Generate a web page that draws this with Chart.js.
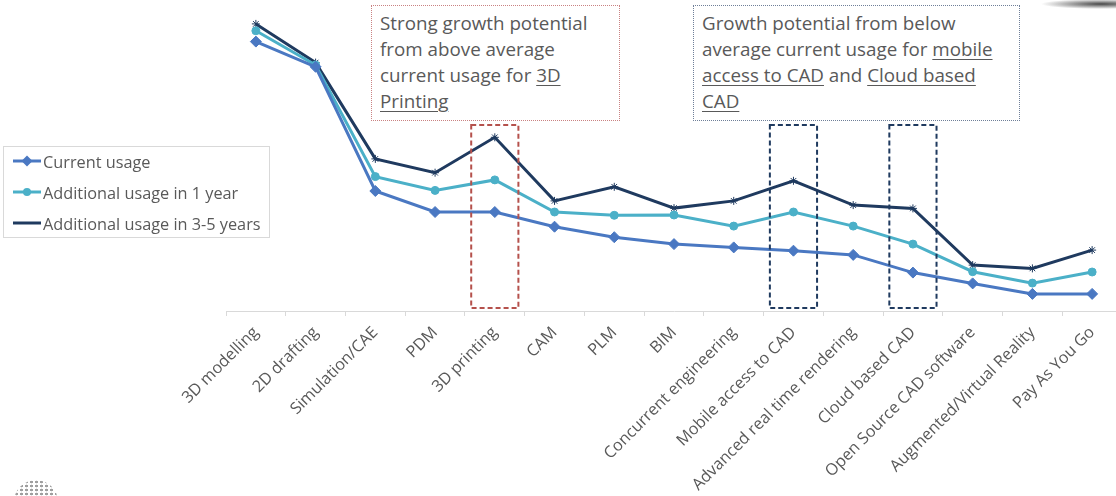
<!DOCTYPE html>
<html lang="en">
<head>
    <meta charset="UTF-8">
    <title>CAD technology usage</title>
    <script src="https://cdn.jsdelivr.net/npm/chart.js"></script>
    <style>
        html, body { margin: 0; padding: 0; background: #fff; overflow: hidden; }
        body { width: 1116px; height: 496px; position: relative; font-family: 'Open Sans', sans-serif; color: #595959; }
        #wrap { position: absolute; left: 0; top: 0; width: 1130px; height: 496px; }
        .note {
            position: absolute; box-sizing: border-box; padding: 4px 8px;
            font-size: 18.8px; line-height: 26px; color: #595959; background: #fff; white-space: nowrap;
        }
        .note u { text-decoration-thickness: 1px; text-underline-offset: 3px; }
        #note1 { left: 371px; top: 5px; width: 249px; height: 116px; border: 1px dotted #c98282; }
        #note2 { left: 693px; top: 5px; width: 327px; height: 116px; border: 1px dotted #6f7f98; }
        #legend {
            position: absolute; left: 3px; top: 146px; width: 267px; height: 92px;
            box-sizing: border-box; border: 1px solid #d9d9d9;
        }
        .lg { position: absolute; left: 39px; font-size: 16.3px; line-height: 20px; white-space: nowrap; }
        #corner {
            position: absolute; right: 0; top: 0; width: 90px; height: 12px;
            background: radial-gradient(ellipse 60px 5px at 75px 4px, rgba(40,40,40,0.85), rgba(255,255,255,0));
        }
        #globe {
            position: absolute; left: 14px; top: 480px; width: 44px; height: 44px; border-radius: 50%;
            background: radial-gradient(circle, #777 1.2px, transparent 1.6px) 0 0 / 5px 4px;
            opacity: 0.7;
        }
    </style>
</head>
<body>
    <div id="wrap"><canvas id="usageChart"></canvas></div>

    <div id="legend">
        <div class="lg" style="top:5px">Current usage</div>
        <div class="lg" style="top:36px">Additional usage in 1 year</div>
        <div class="lg" style="top:67px">Additional usage in 3-5 years</div>
    </div>

    <div class="note" id="note1">Strong growth potential<br>from above average<br>current usage for <u>3D</u><br><u>Printing</u></div>
    <div class="note" id="note2">Growth potential from below<br>average current usage for <u>mobile</u><br><u>access to CAD</u> and <u>Cloud based</u><br><u>CAD</u></div>

    <div id="corner"></div>
    <div id="globe"></div>

    <script>
        // Data
        const categories = ['3D modelling', '2D drafting', 'Simulation/CAE', 'PDM', '3D printing', 'CAM', 'PLM', 'BIM',
            'Concurrent engineering', 'Mobile access to CAD', 'Advanced real time rendering', 'Cloud based CAD',
            'Open Source CAD software', 'Augmented/Virtual Reality', 'Pay As You Go'];
        const currentUsage = [89.8, 81.4, 40.0, 33.0, 33.0, 28.1, 24.6, 22.3, 21.2, 20.1, 18.7, 12.8, 9.2, 5.7, 5.7];
        const usage1Year = [93.4, 82.0, 44.8, 40.2, 43.7, 33.0, 31.9, 32.0, 28.3, 33.0, 28.3, 22.3, 13.1, 9.3, 13.0];
        const usage3to5Years = [95.7, 82.8, 50.7, 46.1, 57.9, 36.7, 41.4, 34.3, 36.7, 43.4, 35.3, 34.2, 15.3, 14.2, 20.3];
        const seriesNames = ['Current usage', 'Additional usage in 1 year', 'Additional usage in 3-5 years'];

        const colors = ['#4a78c2', '#4bb0c8', '#1f3a5f'];
        const markers = ['rectRot', 'circle', 'star'];
        const markerSize = [5.5, 4, 4];

        // highlighted categories: [index, colour]
        const highlights = [[4, '#b5514c'], [9, '#1f3a5f'], [11, '#1f3a5f']];

        const overlays = {
            id: 'overlays',
            afterDatasetsDraw(chart) {
                const ctx = chart.ctx;
                const x = chart.scales.x, y = chart.scales.y;
                const step = x.getPixelForValue(1) - x.getPixelForValue(0);
                const top = y.getPixelForValue(62);
                const bottom = chart.chartArea.bottom - 3;
                ctx.save();
                ctx.lineWidth = 2;
                ctx.setLineDash([5, 3]);
                highlights.forEach(([i, c]) => {
                    const cx = x.getPixelForValue(i);
                    const w = step * 0.79;
                    ctx.strokeStyle = c;
                    ctx.strokeRect(cx - w / 2, top, w, bottom - top);
                });
                ctx.restore();

                // legend symbols
                ctx.save();
                [161, 192, 223].forEach((ly, i) => {
                    ctx.strokeStyle = colors[i];
                    ctx.lineWidth = 3;
                    ctx.beginPath();
                    ctx.moveTo(13, ly);
                    ctx.lineTo(41, ly);
                    ctx.stroke();
                    ctx.fillStyle = colors[i];
                    ctx.lineWidth = 1;
                    Chart.helpers.drawPoint(ctx, { pointStyle: markers[i], radius: markerSize[i], rotation: 0 }, 27, ly);
                });
                ctx.restore();
            }
        };

        const datasets = [currentUsage, usage1Year, usage3to5Years].map((d, i) => ({
            label: seriesNames[i],
            data: d,
            borderColor: colors[i],
            backgroundColor: colors[i],
            borderWidth: 3,
            pointStyle: markers[i],
            pointRadius: markerSize[i],
            pointBorderWidth: 1,
            pointBorderColor: colors[i],
            tension: 0,
            clip: false
        }));

        new Chart(document.getElementById('usageChart'), {
            type: 'line',
            data: { labels: categories, datasets: datasets },
            options: {
                responsive: true,
                maintainAspectRatio: false,
                animation: false,
                layout: { padding: { left: 226, right: 8, top: 11, bottom: 0 } },
                plugins: { legend: { display: false }, tooltip: { enabled: false } },
                scales: {
                    x: {
                        offset: true,
                        afterFit: (scale) => { scale.height = 185; },
                        border: { color: '#d9d9d9', width: 1 },
                        grid: { offset: true, drawOnChartArea: false, drawTicks: true, tickLength: 5, color: '#d9d9d9' },
                        ticks: {
                            autoSkip: false, minRotation: 45, maxRotation: 45, padding: 7,
                            color: '#595959', font: { family: 'Open Sans', size: 16.2 }
                        }
                    },
                    y: { display: false, min: 0, max: 100 }
                }
            },
            plugins: [overlays]
        });
    </script>
</body>
</html>
